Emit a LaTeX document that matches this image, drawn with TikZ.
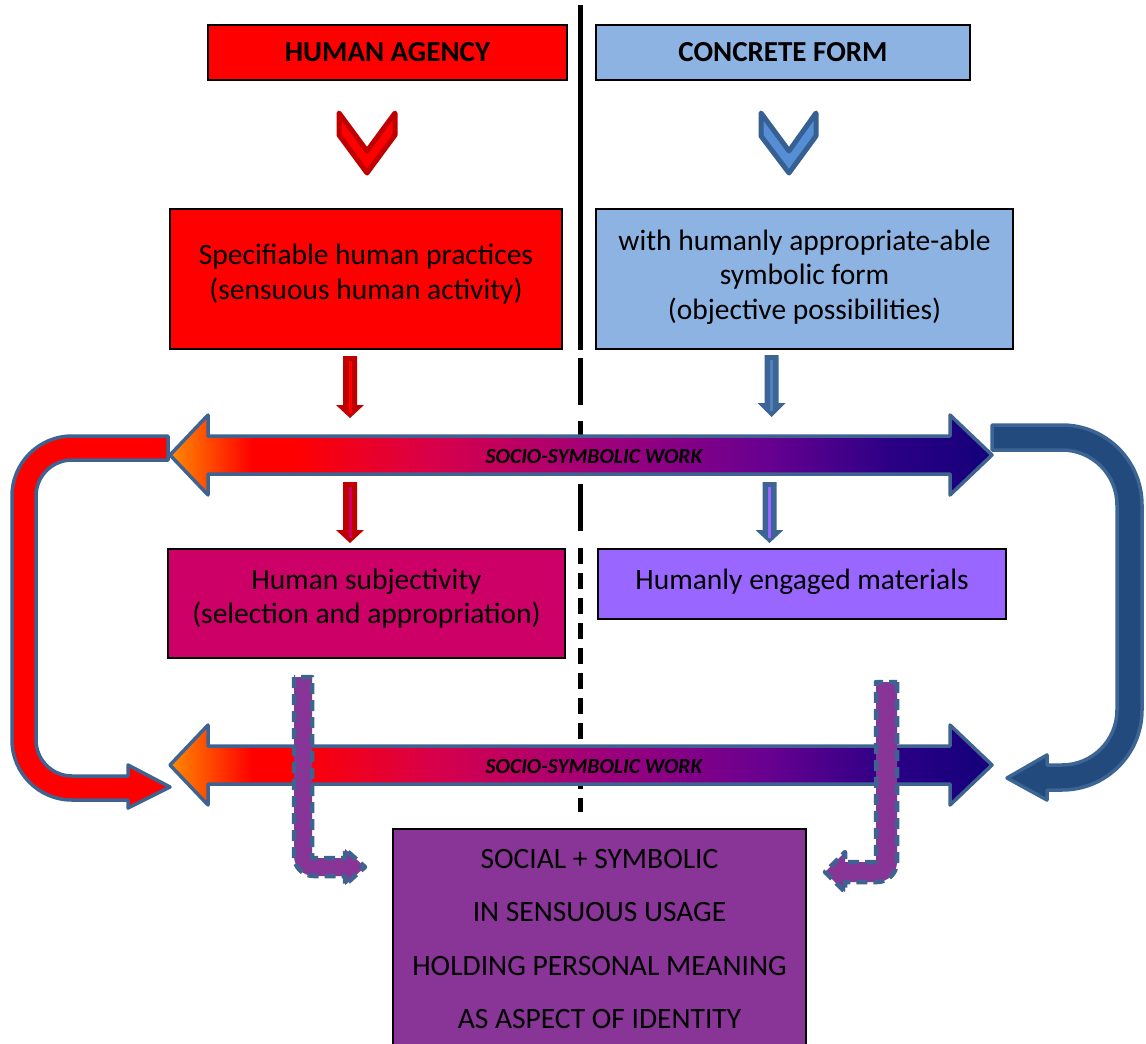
\documentclass[tikz,border=0pt]{standalone}
\usepackage{fontspec}
\setmainfont{Carlito}
\definecolor{bOr}{HTML}{FF8A00}
\definecolor{bRed}{HTML}{FF0000}
\definecolor{bCrim}{HTML}{D8004A}
\definecolor{bMid}{HTML}{A0007A}
\definecolor{bPur}{HTML}{6A0090}
\definecolor{bNav}{HTML}{2A0085}
\definecolor{bEnd}{HTML}{14007A}
\definecolor{edgeBlue}{HTML}{3F6390}
\definecolor{lightBlue}{HTML}{8DB3E2}
\definecolor{crimBox}{HTML}{CC0066}
\definecolor{violBox}{HTML}{9966FF}
\definecolor{purpBox}{HTML}{893497}
\definecolor{darkRed}{HTML}{C00000}
\definecolor{chevBlue}{HTML}{558ED5}
\definecolor{chevEdge}{HTML}{376092}
\definecolor{arrBlue}{HTML}{3C6494}
\definecolor{stripeBlue}{HTML}{4F81BD}
\definecolor{uBlue}{HTML}{234A7C}
\definecolor{uEdge}{HTML}{3C6494}
\pgfdeclarehorizontalshading{bandshade}{100bp}{color(0bp)=(bOr); color(25bp)=(bOr); color(30bp)=(bRed); color(32.5bp)=(bRed); color(41bp)=(bCrim); color(51bp)=(bMid); color(61bp)=(bPur); color(69bp)=(bNav); color(75bp)=(bEnd); color(100bp)=(bEnd)}
\newcommand\sbband[1]{%
  \path[shading=bandshade, draw=edgeBlue, line width=3.5pt, line join=round]
    (170,#1) -- (208,#1-40) -- (208,#1-19) -- (950,#1-19) -- (950,#1-40) -- (992,#1)
    -- (950,#1+40) -- (950,#1+19) -- (208,#1+19) -- (208,#1+40) -- cycle;}
\newcommand\dnarrow[6]{% x, top, headbase, tip, outer, stripe
  \fill[#5] (#1-7,#2) -- (#1+7,#2) -- (#1+7,#3) -- (#1+14,#3) -- (#1,#4) -- (#1-14,#3) -- (#1-7,#3) -- cycle;
  \draw[#6, line width=3pt] (#1,#2+5) -- (#1,#3+8);}
\begin{document}
\begin{tikzpicture}[x=1pt,y=-1pt,
  box/.style={draw=black, line width=1.3pt, inner sep=0pt},
  boxtext/.style={align=center, inner sep=0pt, font=\fontsize{29.5}{34.5}\selectfont},
  titletext/.style={inner sep=0pt, font=\bfseries\fontsize{29}{32}\selectfont},
  bandtext/.style={font=\bfseries\itshape\fontsize{21.5}{24}\selectfont, inner sep=0pt},
  dashedarrow/.style={fill=purpBox, draw=edgeBlue, line width=4.5pt, dash pattern=on 11pt off 6pt, line join=round}]
\useasboundingbox (0,0) rectangle (1146,1044);
% divider
\draw[line width=5pt] (580,5) -- (580,350);
\draw[line width=5pt, dash pattern=on 47pt off 16pt] (580,358) -- (580,540);
\draw[line width=5pt, dash pattern=on 16pt off 9pt] (580,548) -- (580,812);
% boxes
\node[box, fill=bRed, minimum width=359pt, minimum height=55pt] (ha) at (387.5,52.5) {};
\node[titletext] (hat) at (ha.center) {HUMAN AGENCY};
\node[box, fill=lightBlue, minimum width=374pt, minimum height=55pt] (cf) at (783,52.5) {};
\node[titletext] (cft) at (cf.center) {CONCRETE FORM};
\node[box, fill=bRed, minimum width=392pt, minimum height=140pt] (shp) at (366,279) {};
\node[boxtext] (shpt) at ([yshift=5pt]shp.center) {Specifiable human practices\\(sensuous human activity)};
\node[box, fill=lightBlue, minimum width=417pt, minimum height=140pt] (wh) at (804.5,279) {};
\node[boxtext] (wht) at ([yshift=2pt]wh.center) {with humanly appropriate-able\\symbolic form\\(objective possibilities)};
\node[box, fill=crimBox, minimum width=397pt, minimum height=109pt] (hs) at (366.5,603.5) {};
\node[boxtext] (hst) at ([yshift=5pt]hs.center) {Human subjectivity\\(selection and appropriation)};
\node[box, fill=violBox, minimum width=408pt, minimum height=70pt] (hem) at (802,584) {};
\node[boxtext] (hemt) at ([yshift=2pt]hem.center) {Humanly engaged materials};
% chevrons
\path[fill=bRed, draw=darkRed, line width=5pt, line join=round]
  (339,113) -- (367,151) -- (395,113) -- (395,135) -- (367,173) -- (339,135) -- cycle;
\path[fill=chevBlue, draw=chevEdge, line width=5pt, line join=round]
  (761,113) -- (789,151) -- (816,113) -- (816,136) -- (789,173) -- (761,136) -- cycle;
% down arrows
\dnarrow{350}{356}{405}{418}{darkRed}{bRed}
\dnarrow{771.5}{355}{403}{417}{arrBlue}{stripeBlue}
\dnarrow{350}{482}{530}{543}{darkRed}{crimBox}
\dnarrow{769.5}{482}{530}{543}{arrBlue}{violBox}
% U-turn arrows
\path[fill=bRed, draw=edgeBlue, line width=3.5pt, line join=round]
  (168,436) -- (72,436) arc[start angle=270, end angle=180, radius=60]
  -- (12,740) arc[start angle=180, end angle=90, radius=60]
  -- (128,800) -- (128,808) -- (170,787) -- (128,765) -- (128,776) -- (72,776)
  arc[start angle=90, end angle=180, radius=36] -- (36,496)
  arc[start angle=180, end angle=270, radius=36] -- (168,460) -- cycle;
\path[fill=uBlue, draw=uEdge, line width=3.5pt, line join=round]
  (992,425) -- (1062,425) arc[start angle=270, end angle=360, radius=80]
  -- (1142,710) arc[start angle=0, end angle=90, radius=80]
  -- (1047,790) -- (1047,800) -- (1007,778) -- (1047,755) -- (1047,765) -- (1062,765)
  arc[start angle=90, end angle=0, radius=55] -- (1117,505)
  arc[start angle=0, end angle=-90, radius=55] -- (992,450) -- cycle;
% socio-symbolic bands
\sbband{455}
\node[bandtext] (w1) at (594,457) {SOCIO-SYMBOLIC WORK};
\sbband{765}
\node[bandtext] (w2) at (594,767) {SOCIO-SYMBOLIC WORK};
% dashed bent arrows
\path[dashedarrow]
  (294,677) -- (294,856) arc[start angle=180, end angle=90, radius=20]
  -- (345,876) -- (345,885) -- (365,867) -- (345,849) -- (345,858) -- (312,858) -- (312,677) -- cycle;
\path[dashedarrow]
  (897,682) -- (897,862) arc[start angle=0, end angle=90, radius=20]
  -- (845,882) -- (845,892) -- (825,872) -- (845,852) -- (845,862) -- (876,862) -- (876,682) -- cycle;
% bottom box
\begin{scope}
\clip (0,0) rectangle (1146,1044);
\node[box, fill=purpBox, minimum width=413pt, minimum height=231pt] (sym) at (599.5,944.5) {};
\end{scope}
\node[align=center, inner sep=0pt, font=\fontsize{29.5}{53.5}\selectfont] (symtext) at (599.5,939) {SOCIAL + SYMBOLIC\\IN SENSUOUS USAGE\\HOLDING PERSONAL MEANING\\AS ASPECT OF IDENTITY};
\end{tikzpicture}
\end{document}
